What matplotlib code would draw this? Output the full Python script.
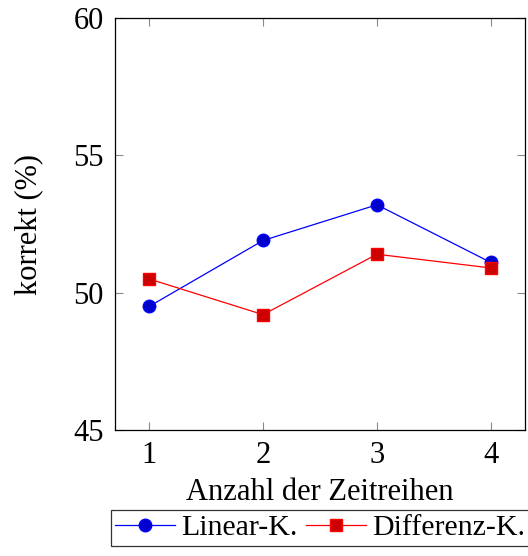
import matplotlib.pyplot as plt

plt.rcParams['font.family'] = ['Liberation Serif', 'DejaVu Serif']

# Accuracy per number of time series
n_series = [1, 2, 3, 4]
linear_k = [49.5, 51.9, 53.2, 51.1]
differenz_k = [50.5, 49.2, 51.4, 50.9]

fig = plt.figure(figsize=(5.28, 5.56), dpi=100)
ax = fig.add_axes([0.2178, 0.2266, 0.7765, 0.741])

ax.plot(n_series, linear_k, color='blue', lw=0.9, marker='o', markersize=9,
        markerfacecolor=(0, 0, 0.8), markeredgecolor='blue', label='Linear-K.')
ax.plot(n_series, differenz_k, color='red', lw=0.9, marker='s', markersize=9,
        markerfacecolor=(0.8, 0, 0), markeredgecolor='red', label='Differenz-K.')

ax.set_xlim(0.7, 4.3)
ax.set_ylim(45, 60)
ax.set_xticks(n_series)
ax.set_yticks([45, 50, 55, 60])
ax.tick_params(direction='in', length=6, width=0.8, color='#888888',
               top=True, right=True, labelsize=22, pad=8)
for s in ax.spines.values():
    s.set_linewidth(0.9)

ax.set_xlabel('Anzahl der Zeitreihen', fontsize=22, labelpad=6)
ax.set_ylabel('korrekt (%)', fontsize=22, labelpad=22)

leg = fig.legend(loc='upper center', bbox_to_anchor=(0.606, 0.083), ncol=2,
                 fontsize=21.5, frameon=True, fancybox=False, handlelength=2.0,
                 handletextpad=0.2, columnspacing=0.3, borderpad=0.15,
                 borderaxespad=0)
leg.get_frame().set_edgecolor('black')
leg.get_frame().set_linewidth(0.9)

fig.savefig('out.png', dpi=100)
